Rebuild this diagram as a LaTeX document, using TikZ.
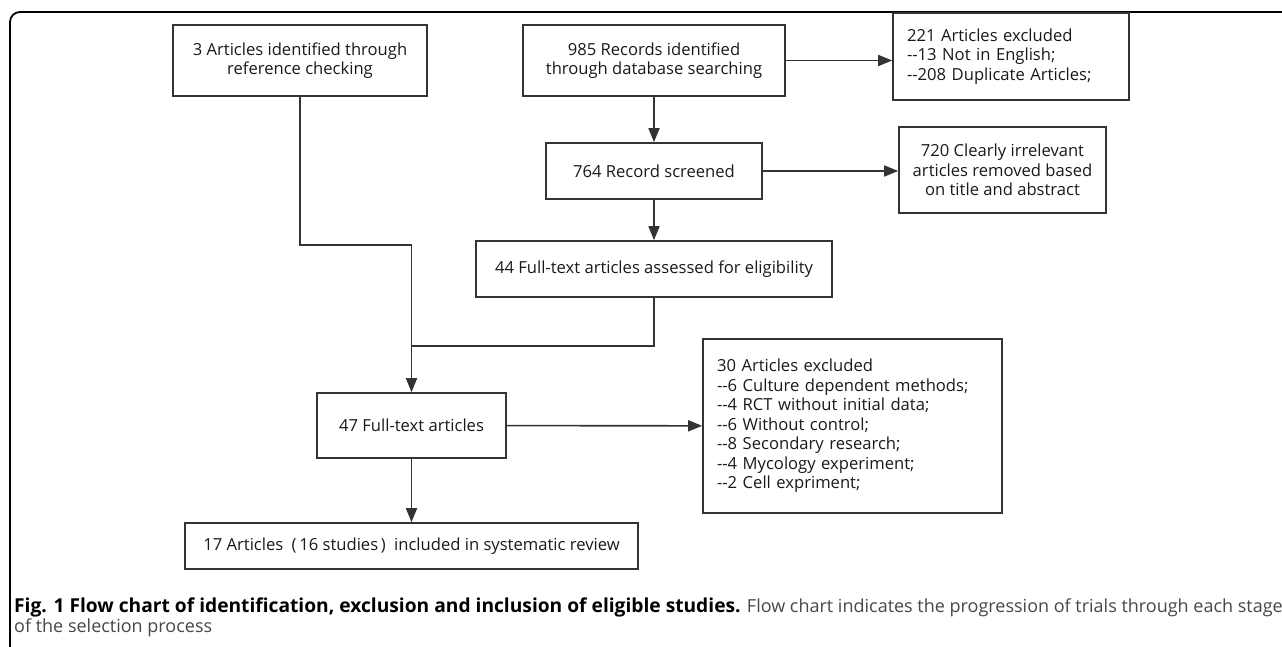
\documentclass[tikz,border=0pt]{standalone}
\usepackage{fontspec}
\setmainfont{Open Sans}
\usetikzlibrary{positioning,arrows.meta}

\begin{document}
\begin{tikzpicture}[
    x=1pt, y=-1pt,
    font=\fontsize{16.6}{19.5}\selectfont,
    stage/.style={rectangle, draw=black!80, line width=1.6pt, align=center, inner sep=0pt, text=black!90},
    excl/.style={stage, align=left, inner xsep=14pt},
    arrow/.style={-{Triangle[length=14pt,width=11pt]}, line width=1.6pt, draw=black!80},
    link/.style={line width=1.6pt, draw=black!80}
]
\useasboundingbox (0,0) rectangle (1282,646);

% Outer frame
\draw[line width=1.8pt, rounded corners=10pt] (10,670) |- (1300,12);

% Identification
\node[stage, minimum width=254pt, minimum height=71pt] (refs) at (300,60.5) {3 Articles identified through\\reference checking};
\node[stage, minimum width=262pt, minimum height=71pt] (records) at (654,60.5) {985 Records identified\\through database searching};
\node[excl, text width=208pt, minimum height=87pt] (dup) at (1011,56.5) {221 Articles excluded\\-{}-13 Not in English;\\-{}-208 Duplicate Articles;};

% Screening
\node[stage, minimum width=216pt, minimum height=56pt] (screened) at (654,171) {764 Record screened};
\node[stage, minimum width=207pt, minimum height=86pt] (irrelevant) at (1002.5,170) {720 Clearly irrelevant\\articles removed based\\on title and abstract};

% Eligibility
\node[stage, minimum width=356pt, minimum height=56pt] (assessed) at (654,269) {44 Full-text articles assessed for eligibility};
\node[stage, minimum width=189pt, minimum height=65pt] (fulltext) at (411.5,425.5) {47 Full-text articles};
\node[excl, text width=271pt, minimum height=174pt] (excluded) at (852.5,426) {30 Articles excluded\\-{}-6 Culture dependent methods;\\-{}-4 RCT without initial data;\\-{}-6 Without control;\\-{}-8 Secondary research;\\-{}-4 Mycology experiment;\\-{}-2 Cell expriment;};

% Included
\node[stage, minimum width=453pt, minimum height=46pt] (included) at (411.5,546) {17 Articles\enspace(\,16 studies\,)\enspace included in systematic review};

% Connectors
\draw[arrow] (records.east) -- (records.east -| dup.west);
\draw[arrow] (records) -- (screened);
\draw[arrow] (screened.east) -- (screened.east -| irrelevant.west);
\draw[arrow] (screened) -- (assessed);
\coordinate (merge) at (411.5,346);
\draw[link] (assessed.south) |- (merge);
\draw[arrow] (refs.south) -- ++(0,148) -| (fulltext.north);
\draw[arrow] (fulltext) -- (excluded);
\draw[arrow] (fulltext) -- (included);

% Caption
\node[anchor=base west, align=left, inner sep=0pt, font=\fontsize{18}{20}\selectfont] (caption) at (14,632) {{\fontsize{19.2}{20}\selectfont\bfseries Fig. 1 Flow chart of identification, exclusion and inclusion of eligible studies.} \textcolor{black!72}{Flow chart indicates the progression of trials through each stage}\\\textcolor{black!72}{of the selection process}};

\end{tikzpicture}
\end{document}
